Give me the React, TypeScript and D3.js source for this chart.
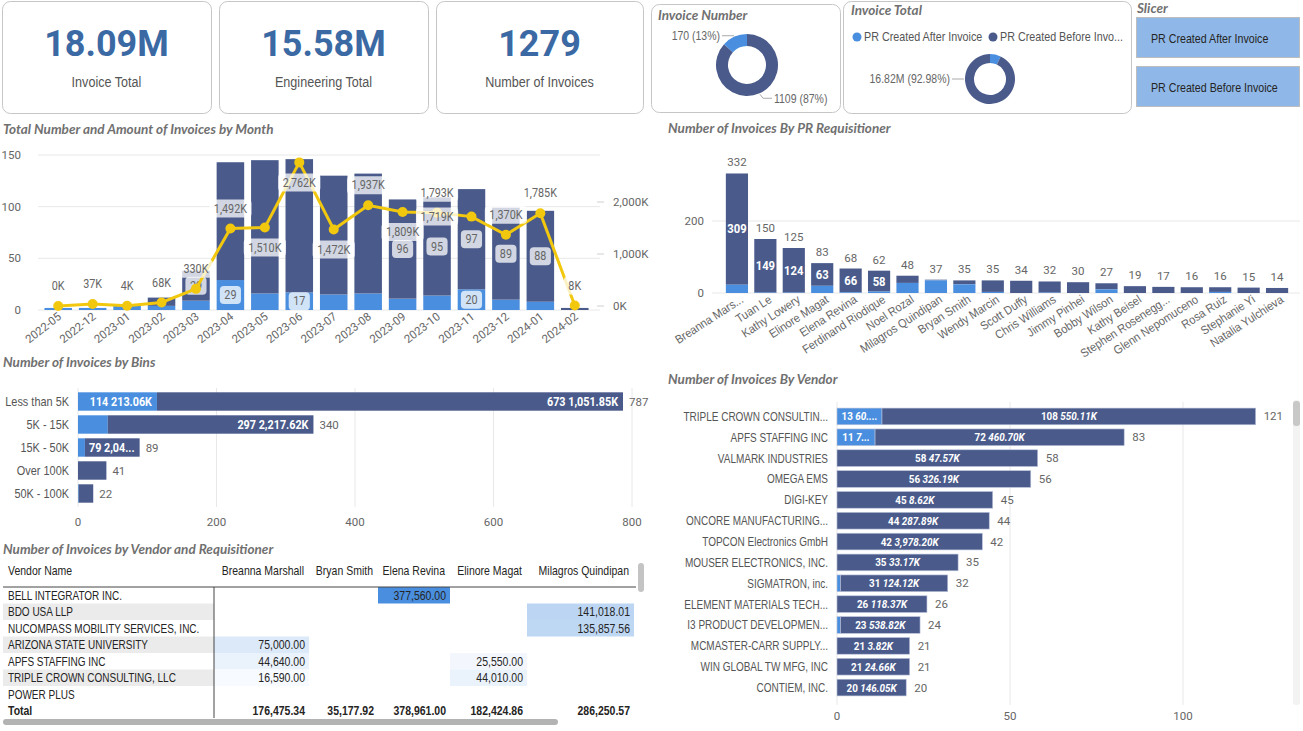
import React from "react";
import * as d3 from "d3";

// ---------- data ----------
const kpiValues = ["18.09M", "15.58M", "1279"];
const kpiLabels = ["Invoice Total", "Engineering Total", "Number of Invoices"];

const statusNames = ["PR Created After Invoice", "PR Created Before Invoice"];
const countByStatus = [170, 1109];
const totalByStatusM = [1.27, 16.82];

const months = ["2022-05", "2022-12", "2023-01", "2023-02", "2023-03", "2023-04", "2023-05", "2023-06",
  "2023-07", "2023-08", "2023-09", "2023-10", "2023-11", "2023-12", "2024-01", "2024-02"];
const monthAfter = [2, 2, 4, 4, 9, 29, 16, 17, 15, 16, 11, 14, 20, 10, 8, 0];
const monthBefore = [0, 0, 0, 8, 29, 114, 129, 129, 115, 116, 96, 95, 97, 89, 88, 2];
const monthAmountK = [0, 37, 4, 68, 330, 1492, 1510, 2762, 1472, 1937, 1809, 1793, 1719, 1370, 1785, 8];
// where power bi put the amount label: above, below, or pushed left
const monthLabelSide = ["a", "a", "a", "a", "a", "a", "b", "b", "b", "a", "b", "a", "l", "a", "a", "a"];

const requisitioners = ["Breanna Mars...", "Tuan Le", "Kathy Lowery", "Elinore Magat", "Elena Revina",
  "Ferdinand Riodique", "Noel Rozal", "Milagros Quindipan", "Bryan Smith", "Wendy Marcin", "Scott Duffy",
  "Chris Williams", "Jimmy Pinhei", "Bobby Wilson", "Kathy Beisel", "Stephen Rosenegg...", "Glenn Nepomuceno",
  "Rosa Ruiz", "Stephanie Yi", "Natalia Yulchieva"];
const prAfter = [23, 1, 1, 20, 2, 4, 28, 35, 24, 3, 0, 1, 0, 10, 0, 0, 0, 3, 0, 0];
const prBefore = [309, 149, 124, 63, 66, 58, 20, 2, 11, 32, 34, 31, 30, 17, 19, 17, 16, 13, 15, 14];
const prTicks = [0, 200];

const bins = ["Less than 5K", "5K - 15K", "15K - 50K", "Over 100K", "50K - 100K"];
const binAfter = [114, 43, 10, 0, 1];
const binBefore = [673, 297, 79, 41, 21];
const binAfterK = [213.06, 318.4, 296.1, 0, 62.5];
const binBeforeK = [1051.85, 2217.62, 2043.18, 9804.2, 1460.3];

const vendors = ["TRIPLE CROWN CONSULTING, LLC", "APFS STAFFING INC", "VALMARK INDUSTRIES", "OMEGA EMS", "DIGI-KEY",
  "ONCORE MANUFACTURING LLC", "TOPCON Electronics GmbH", "MOUSER ELECTRONICS, INC.", "SIGMATRON, inc.",
  "ELEMENT MATERIALS TECHNOLOGY", "I3 PRODUCT DEVELOPMENT INC", "MCMASTER-CARR SUPPLY CO.", "WIN GLOBAL TW MFG, INC",
  "CONTIEM, INC."];
const vendorAfter = [13, 11, 0, 0, 0, 0, 0, 0, 1, 0, 1, 0, 0, 0];
const vendorBefore = [108, 72, 58, 56, 45, 44, 42, 35, 31, 26, 23, 21, 21, 20];
const vendorAfterK = [60.52, 70.19, 0, 0, 0, 0, 0, 0, 2.1, 0, 10.5, 0, 0, 0];
const vendorBeforeK = [550.11, 460.7, 47.57, 326.19, 8.62, 287.89, 3978.2, 33.17, 124.12, 118.37, 538.82, 3.82, 24.66, 146.05];
const vendorTicks = [0, 50, 100];

const tableVendors = ["BELL INTEGRATOR INC.", "BDO USA LLP", "NUCOMPASS MOBILITY SERVICES, INC.",
  "ARIZONA STATE UNIVERSITY", "APFS STAFFING INC", "TRIPLE CROWN CONSULTING, LLC", "POWER PLUS"];
const tableReqs = ["Breanna Marshall", "Bryan Smith", "Elena Revina", "Elinore Magat", "Milagros Quindipan"];
const tableValues: (number | null)[][] = [
  [null, null, 377560, null, null],
  [null, null, null, null, 141018.01],
  [null, null, null, null, 135857.56],
  [75000, null, null, null, null],
  [44640, null, null, 25550, null],
  [16590, null, null, 44010, null],
  [null, null, null, null, null],
];
const tableTotals = [176475.34, 35177.92, 378961.0, 182424.86, 286250.57];

// ---------- style ----------
const DARK = "#4A5B8B";
const LIGHT = "#4A8FDF";
const YELLOW = "#F2C80F";
const GRID = "#E8E8E8";
const GREY = "#666";
const UI = "'Liberation Sans', Arial, sans-serif";
const DIN = "Roboto, sans-serif";
const SQ = 0.84; // segoe ui in the screenshot is squeezed, liberation sans is wider
const DSQ = 0.9;
const titleStyle: any = { fontFamily: "Lato, sans-serif", fontWeight: 700, fontStyle: "italic", fontSize: 13.5, fill: "#707070" };
const axisStyle: any = { fontFamily: DIN, fontSize: 11.5, fill: GREY };

let ctx: CanvasRenderingContext2D | null = null;
function textW(t: string, font: string) {
  if (!ctx) ctx = document.createElement("canvas").getContext("2d");
  ctx!.font = font;
  return ctx!.measureText(t).width;
}
function fit(t: string, font: string, max: number, sx = 1) {
  if (textW(t, font) * sx <= max) return t;
  let s = t;
  while (s.length > 1 && textW(s + "...", font) * sx > max) s = s.slice(0, -1);
  return s.trimEnd() + "...";
}
const fmtK = (v: number) => d3.format(",.2f")(v) + "K";

// squeezed text
function T({ x, y, sx = SQ, anchor = "start", rotate = 0, style, children }: any) {
  return (
    <text transform={`translate(${x},${y}) rotate(${rotate}) scale(${sx},1)`} dy="0.35em" textAnchor={anchor} style={style}>
      {children}
    </text>
  );
}

function LabelBox({ x, y, text, color = GREY }: any) {
  const w = textW(text, `12px ${DIN}`) * DSQ + 9;
  return (
    <g>
      <rect x={x - w / 2} y={y - 9} width={w} height={18} rx={4} fill="#fff" opacity={0.75} />
      <T x={x} y={y} sx={DSQ} anchor="middle" style={{ fontFamily: DIN, fontSize: 12, fill: color }}>{text}</T>
    </g>
  );
}

function Kpis() {
  return (
    <g>
      {kpiValues.map((v, i) => {
        const x = 2 + i * 217;
        const w = i === 2 ? 207 : 209;
        return (
          <g key={v}>
            <rect x={x + 0.5} y={1.5} width={w} height={112} rx={8} fill="#fff" stroke="#C6C6C6" />
            <text x={x + w / 2} y={56} textAnchor="middle" style={{ fontFamily: DIN, fontWeight: 700, fontSize: 36, fill: "#3B69A4" }}>{v}</text>
            <T x={x + w / 2} y={82} anchor="middle" style={{ fontFamily: UI, fontSize: 15, fill: "#555" }}>{kpiLabels[i]}</T>
          </g>
        );
      })}
    </g>
  );
}

function Donut({ cx, cy, r0, r1, values, colors, labels, labelAt }: any) {
  const arcs = d3.pie<number>().sort(null)(values);
  const arc = d3.arc<any>().innerRadius(r0).outerRadius(r1);
  return (
    <g transform={`translate(${cx},${cy})`}>
      {arcs.map((a, i) => <path key={i} d={arc(a) || ""} fill={colors[i]} />)}
      {arcs.map((a, i) => {
        if (!labelAt[i]) return null;
        const ang = labelAt[i] === "left" ? Math.PI * 1.5 : (a.startAngle + a.endAngle) / 2;
        const side = Math.sin(ang) < 0 ? -1 : 1;
        const p = [Math.sin(ang) * (r1 + 1), -Math.cos(ang) * (r1 + 1)];
        const e = [p[0] + side * 3, p[1] + (Math.cos(ang) < -0.2 ? 4 : 0)];
        const end = e[0] + side * 9;
        return (
          <g key={"l" + i}>
            <polyline points={`${p[0]},${p[1]} ${e[0]},${e[1]} ${end},${e[1]}`} fill="none" stroke="#aaa" />
            <T x={end + side * 2} y={e[1]} anchor={side < 0 ? "end" : "start"}
              style={{ fontFamily: UI, fontSize: 12.5, fill: GREY }}>{labels[i]}</T>
          </g>
        );
      })}
    </g>
  );
}

function DonutCards() {
  const cnt = countByStatus[0] + countByStatus[1];
  const tot = totalByStatusM[0] + totalByStatusM[1];
  const pct0 = d3.format(".0%");
  const pct2 = d3.format(".2%");
  const legendStyle = { fontFamily: UI, fontSize: 12.8, fill: "#555" };
  return (
    <g>
      <rect x={651.5} y={4.5} width={189} height={108} rx={8} fill="#fff" stroke="#C6C6C6" />
      <text x={658} y={20} style={titleStyle}>Invoice Number</text>
      <Donut cx={747} cy={65} r0={19} r1={31}
        values={[countByStatus[1], countByStatus[0]]} colors={[DARK, LIGHT]}
        labels={[`${countByStatus[1]} (${pct0(countByStatus[1] / cnt)})`, `${countByStatus[0]} (${pct0(countByStatus[0] / cnt)})`]}
        labelAt={["mid", "mid"]} />

      <rect x={843.5} y={1.5} width={288} height={112} rx={8} fill="#fff" stroke="#C6C6C6" />
      <text x={851} y={15} style={titleStyle}>Invoice Total</text>
      <circle cx={857} cy={37} r={4.5} fill={LIGHT} />
      <T x={864} y={37} style={legendStyle}>{statusNames[0]}</T>
      <circle cx={993} cy={37} r={4.5} fill={DARK} />
      <T x={1000} y={37} style={legendStyle}>{fit(statusNames[1], `12.8px ${UI}`, 124, SQ)}</T>
      <Donut cx={990} cy={79} r0={16} r1={25}
        values={[totalByStatusM[0], totalByStatusM[1]]} colors={[LIGHT, DARK]}
        labels={["", `${totalByStatusM[1].toFixed(2)}M (${pct2(totalByStatusM[1] / tot)})`]}
        labelAt={[null, "left"]} />

      <text x={1137} y={13} style={titleStyle}>Slicer</text>
      {statusNames.map((s, i) => (
        <g key={s}>
          <rect x={1136.5} y={17.5 + i * 49} width={163} height={40} fill="#8FB8E8" stroke="#BDBDBD" />
          <T x={1151} y={38.5 + i * 49} style={{ fontFamily: UI, fontSize: 12.7, fill: "#252423" }}>{s}</T>
        </g>
      ))}
    </g>
  );
}

function MonthChart() {
  const x = d3.scaleBand<string>().domain(months).range([41, 592]).paddingInner(0.2).paddingOuter(0.1);
  const y = d3.scaleLinear().domain([0, 150]).range([310, 155]);
  const y2 = d3.scaleLinear().domain([0, 2000]).range([306, 202]);
  const rows = months.map((m, i) => ({ m, after: monthAfter[i], before: monthBefore[i] }));
  const series = d3.stack<any>().keys(["after", "before"])(rows);
  const cx = (m: string) => (x(m) ?? 0) + x.bandwidth() / 2;
  const pts = months.map((m, i) => [cx(m), y2(monthAmountK[i])] as [number, number]);
  const line = d3.line();
  return (
    <g>
      <text x={3} y={134} style={titleStyle}>Total Number and Amount of Invoices by Month</text>
      {y.ticks(3).map((t) => (
        <g key={t}>
          <line x1={38} x2={600} y1={y(t)} y2={y(t)} stroke={GRID} />
          <text x={21} y={y(t)} dy="0.35em" textAnchor="end" style={axisStyle}>{t}</text>
        </g>
      ))}
      {y2.ticks(2).map((t) => (
        <g key={"r" + t}>
          <line x1={597} x2={604} y1={y2(t)} y2={y2(t)} stroke="#D0D0D0" />
          <text x={613} y={y2(t)} dy="0.35em" style={axisStyle}>{d3.format(",")(t)}K</text>
        </g>
      ))}
      {series.map((s, si) =>
        s.map((d, i) => (
          <rect key={si + "-" + i} x={x(months[i])} y={y(d[1])} width={x.bandwidth()}
            height={Math.max(0, y(d[0]) - y(d[1]))} fill={si ? DARK : LIGHT} />
        ))
      )}
      {months.map((m) => (
        <text key={m} transform={`translate(${cx(m) + 4},318) rotate(-38)`} textAnchor="end" style={axisStyle}>{m}</text>
      ))}
      {months.map((m, i) => {
        const a = monthAfter[i], b = monthBefore[i];
        return (
          <g key={"bl" + m}>
            {a >= 17 && <LabelBox x={cx(m)} y={(y(0) + y(a)) / 2} text={String(a)} />}
            {b >= 20 && a + b < 120 && <LabelBox x={cx(m)} y={(y(a) + y(a + b)) / 2} text={String(b)} />}
          </g>
        );
      })}
      <path d={line(pts) || ""} fill="none" stroke={YELLOW} strokeWidth={3} />
      {pts.map((p, i) => <circle key={i} cx={p[0]} cy={p[1]} r={5} fill={YELLOW} />)}
      {pts.map((p, i) => {
        const side = monthLabelSide[i];
        const lx = side === "l" ? p[0] - x.step() : p[0];
        const ly = side === "a" ? p[1] - 20 : side === "b" ? p[1] + 20 : p[1];
        return <LabelBox key={"v" + i} x={lx} y={ly} text={`${d3.format(",")(monthAmountK[i])}K`} />;
      })}
    </g>
  );
}

function PrChart() {
  const x = d3.scaleBand<string>().domain(requisitioners).range([723, 1291]).paddingInner(0.22).paddingOuter(0.1);
  const y = d3.scaleLinear().domain([0, 200]).range([293, 221]);
  const cx = (n: string) => (x(n) ?? 0) + x.bandwidth() / 2;
  return (
    <g>
      <text x={668} y={133} style={titleStyle}>Number of Invoices By PR Requisitioner</text>
      {prTicks.map((t) => (
        <g key={t}>
          <line x1={712} x2={1300} y1={y(t)} y2={y(t)} stroke={GRID} />
          <text x={704} y={y(t)} dy="0.35em" textAnchor="end" style={axisStyle}>{t}</text>
        </g>
      ))}
      {requisitioners.map((n, i) => {
        const a = prAfter[i], b = prBefore[i];
        return (
          <g key={n}>
            <rect x={x(n)} y={y(a + b)} width={x.bandwidth()} height={y(a) - y(a + b)} fill={DARK} />
            <rect x={x(n)} y={y(a)} width={x.bandwidth()} height={y(0) - y(a)} fill={LIGHT} />
            <text x={cx(n)} y={y(a + b) - 7} textAnchor="middle" style={axisStyle}>{a + b}</text>
            {b >= 50 && (
              <T x={cx(n)} y={(y(a) + y(a + b)) / 2} sx={DSQ} anchor="middle"
                style={{ fontFamily: DIN, fontWeight: 700, fontSize: 12.5, fill: "#fff" }}>{b}</T>
            )}
            <T x={cx(n) + 5} y={298} rotate={-33} sx={0.92} anchor="end" style={{ fontFamily: UI, fontSize: 12, fill: GREY }}>{n}</T>
          </g>
        );
      })}
    </g>
  );
}

function BinsChart() {
  const x = d3.scaleLinear().domain([0, 800]).range([78, 632]);
  const y = d3.scaleBand<string>().domain(bins).range([390, 505]).paddingInner(0.2).paddingOuter(0.1);
  const font = `bold 12px ${DIN}`;
  return (
    <g>
      <text x={3} y={367} style={titleStyle}>Number of Invoices by Bins</text>
      {x.ticks(4).map((t) => (
        <g key={t}>
          <line x1={x(t)} x2={x(t)} y1={388} y2={507} stroke={GRID} />
          <text x={x(t)} y={522} dy="0.35em" textAnchor="middle" style={axisStyle}>{t}</text>
        </g>
      ))}
      {bins.map((b, i) => {
        const yy = y(b) ?? 0;
        const h = y.bandwidth();
        const segs = [
          { x0: 0, x1: binAfter[i], v: binAfter[i], k: binAfterK[i], fill: LIGHT },
          { x0: binAfter[i], x1: binAfter[i] + binBefore[i], v: binBefore[i], k: binBeforeK[i], fill: DARK },
        ];
        return (
          <g key={b}>
            <T x={69} y={yy + h / 2} anchor="end" style={{ fontFamily: UI, fontSize: 13, fill: "#555" }}>{b}</T>
            {segs.map((s, j) => s.v > 0 && (
              <rect key={j} x={x(s.x0)} y={yy} width={x(s.x1) - x(s.x0)} height={h} fill={s.fill} />
            ))}
            {segs.map((s, j) => {
              const w = x(s.x1) - x(s.x0);
              if (w < 34) return null;
              return (
                <T key={"t" + j} x={x(s.x1) - 5} y={yy + h / 2} sx={DSQ} anchor="end"
                  style={{ fontFamily: DIN, fontWeight: 700, fontSize: 12, fill: "#fff" }}>{fit(`${s.v} ${fmtK(s.k)}`, font, w - 8, DSQ)}</T>
              );
            })}
            <text x={x(binAfter[i] + binBefore[i]) + 6} y={yy + h / 2} dy="0.35em" style={axisStyle}>{binAfter[i] + binBefore[i]}</text>
          </g>
        );
      })}
    </g>
  );
}

function VendorChart() {
  const x = d3.scaleLinear().domain([0, 100]).range([837, 1183]);
  const y = d3.scaleBand<string>().domain(vendors).range([406, 698]).paddingInner(0.2).paddingOuter(0.1);
  const font = `bold 11.5px ${DIN}`;
  const catFont = `12.5px ${UI}`;
  const catSq = 0.8;
  return (
    <g>
      <text x={668} y={384} style={titleStyle}>Number of Invoices By Vendor</text>
      {vendorTicks.map((t) => (
        <g key={t}>
          <line x1={x(t)} x2={x(t)} y1={402} y2={705} stroke={GRID} />
          <text x={x(t)} y={716} dy="0.35em" textAnchor="middle" style={axisStyle}>{t}</text>
        </g>
      ))}
      <rect x={1293} y={400} width={7} height={305} rx={3} fill="#F3F3F3" />
      <rect x={1293} y={401} width={7} height={25} rx={3} fill="#C8C8C8" />
      {vendors.map((v, i) => {
        const yy = y(v) ?? 0;
        const h = y.bandwidth();
        const segs = [
          { x0: 0, x1: vendorAfter[i], v: vendorAfter[i], k: vendorAfterK[i], fill: LIGHT },
          { x0: vendorAfter[i], x1: vendorAfter[i] + vendorBefore[i], v: vendorBefore[i], k: vendorBeforeK[i], fill: DARK },
        ];
        return (
          <g key={v}>
            <T x={828} y={yy + h / 2} sx={catSq} anchor="end" style={{ fontFamily: UI, fontSize: 12.5, fill: "#555" }}>{fit(v, catFont, 146, catSq)}</T>
            {segs.map((s, j) => s.v > 0 && (
              <rect key={j} x={x(s.x0)} y={yy} width={x(s.x1) - x(s.x0)} height={h} fill={s.fill} stroke="#B9C2DA" strokeWidth={0.6} />
            ))}
            {segs.map((s, j) => {
              const w = x(s.x1) - x(s.x0);
              if (w < 34) return null;
              const txt = fit(`${s.v} ${fmtK(s.k)}`, font, w - 5, 0.86);
              const sp = txt.indexOf(" ");
              return (
                <T key={"t" + j} x={(x(s.x0) + x(s.x1)) / 2} y={yy + h / 2} sx={0.86} anchor="middle"
                  style={{ fontFamily: DIN, fontWeight: 700, fontSize: 11.5, fill: "#fff" }}>
                  <tspan>{sp > 0 ? txt.slice(0, sp + 1) : txt}</tspan>
                  {sp > 0 && <tspan fontStyle="italic">{txt.slice(sp + 1)}</tspan>}
                </T>
              );
            })}
            <text x={x(vendorAfter[i] + vendorBefore[i]) + 8} y={yy + h / 2} dy="0.35em" style={axisStyle}>{vendorAfter[i] + vendorBefore[i]}</text>
          </g>
        );
      })}
    </g>
  );
}

function VendorTable() {
  const cols = [3, 214, 309, 378, 450, 527, 634];
  const rowH = 16.5;
  const top = 587;
  const max = d3.max(tableValues.flat().map((v) => v ?? 0)) || 1;
  const shade = d3.scaleLinear<string>().domain([0, max]).range(["#ffffff", LIGHT]);
  const fmt = d3.format(",.2f");
  const cell: any = { fontFamily: UI, fontSize: 12.5, fill: "#252423" };
  return (
    <g>
      <text x={3} y={554} style={titleStyle}>Number of Invoices by Vendor and Requisitioner</text>
      <T x={8} y={571} style={cell}>Vendor Name</T>
      {tableReqs.map((r, j) => (
        <T key={r} x={cols[j + 2] - 5} y={571} anchor="end" style={cell}>{r}</T>
      ))}
      {tableVendors.map((v, i) => {
        const ry = top + i * rowH;
        return (
          <g key={v}>
            {i % 2 === 1 && <rect x={cols[0]} y={ry} width={cols[1] - cols[0]} height={rowH} fill="#EBEBEB" />}
            <T x={8} y={ry + rowH / 2} sx={0.8} style={cell}>{v}</T>
            {tableValues[i].map((val, j) => val == null ? null : (
              <g key={j}>
                <rect x={cols[j + 1]} y={ry} width={cols[j + 2] - cols[j + 1]} height={rowH} fill={shade(val)} />
                <T x={cols[j + 2] - 4} y={ry + rowH / 2} anchor="end" style={cell}>{fmt(val)}</T>
              </g>
            ))}
          </g>
        );
      })}
      <line x1={3} x2={636} y1={top} y2={top} stroke="#444" />
      <line x1={214} x2={214} y1={top} y2={718} stroke="#444" />
      <T x={8} y={711} style={{ ...cell, fontWeight: 700 }}>Total</T>
      {tableTotals.map((t, j) => (
        <T key={j} x={cols[j + 2] - 4} y={711} anchor="end" style={{ ...cell, fontWeight: 700 }}>{fmt(t)}</T>
      ))}
      <rect x={3} y={719} width={555} height={6} rx={3} fill="#B3B3B3" />
      <rect x={638} y={563} width={6} height={29} rx={3} fill="#C4C4C4" />
    </g>
  );
}

export default function App() {
  return (
    <svg width={1303} height={731} style={{ position: "absolute", left: 0, top: 0, background: "#fff" }}>
      <rect width={1303} height={731} fill="#fff" />
      <Kpis />
      <DonutCards />
      <MonthChart />
      <PrChart />
      <BinsChart />
      <VendorTable />
      <VendorChart />
    </svg>
  );
}
